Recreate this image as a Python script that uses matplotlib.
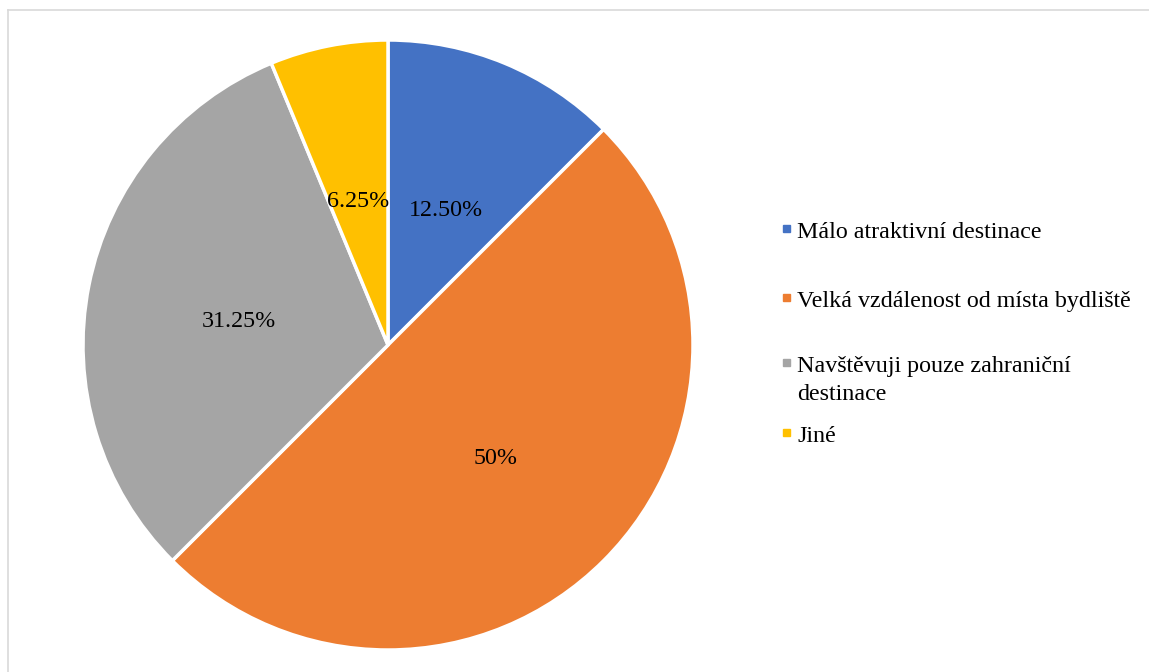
import matplotlib
matplotlib.use("Agg")
import numpy as np
import matplotlib.pyplot as plt
from matplotlib.patches import Rectangle
from matplotlib.lines import Line2D

# data
labels = ["Málo atraktivní destinace", "Velká vzdálenost od místa bydliště",
          "Navštěvuji pouze zahraniční\ndestinace", "Jiné"]
values = [12.5, 50, 31.25, 6.25]
colors = ["#4472C4", "#ED7D31", "#A5A5A5", "#FFC000"]

plt.rcParams['font.family'] = ['Liberation Serif', 'DejaVu Serif']

W, H = 1149, 672
fig = plt.figure(figsize=(W / 100, H / 100), dpi=100)

# frame lines at top and left like the source
fig.add_artist(Line2D([8 / W, 1], [1 - 10 / H, 1 - 10 / H], color="#d9d9d9", lw=1.2))
fig.add_artist(Line2D([8 / W, 8 / W], [0, 1 - 10 / H], color="#d9d9d9", lw=1.2))

cx, cy, r = 388, 345, 305
ax = fig.add_axes([(cx - r) / W, (H - cy - r) / H, 2 * r / W, 2 * r / H])


def fmt(p):
    if abs(p - round(p)) < 1e-6:
        return f"{p:.0f}%"
    return f"{p:.2f}%"


wedges = ax.pie(values, colors=colors, startangle=90, counterclock=False,
                wedgeprops=dict(edgecolor="white", linewidth=2.5))[0]
# percent labels
for w, v in zip(wedges, values):
    ang = np.deg2rad((w.theta1 + w.theta2) / 2)
    ax.annotate(fmt(v), (0.5 * np.cos(ang), 0.5 * np.sin(ang)), xytext=(0, -2.5),
                textcoords="offset points", ha="center", va="center_baseline",
                fontsize=17.3)
ax.set_xlim(-1, 1)
ax.set_ylim(-1, 1)
ax.set_aspect("equal")
ax.axis("off")

# legend, drawn by hand (baseline of first line for each entry)
leg_base = [238, 307, 372, 442]
for lab, c, y in zip(labels, colors, leg_base):
    fig.add_artist(Rectangle((783 / W, 1 - (y - 6) / H), 7 / W, 7 / H,
                             color=c, transform=fig.transFigure))
    lines = lab.split("\n")
    for i, ln in enumerate(lines):
        fig.text(797 / W, 1 - (y + 28 * i) / H, ln, ha="left", va="baseline",
                 fontsize=17.3)

fig.savefig("out.png", dpi=100, facecolor="white")
